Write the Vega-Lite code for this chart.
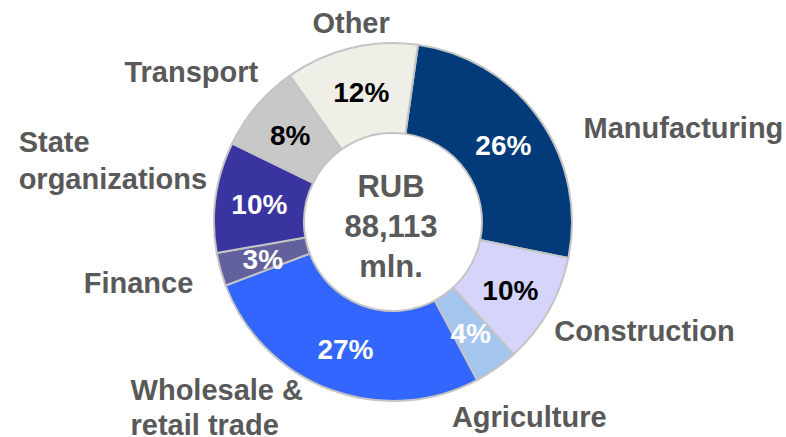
{
  "$schema": "https://vega.github.io/schema/vega-lite/v6.json",
  "width": 786,
  "height": 444,
  "autosize": {"type": "none"},
  "padding": 0,
  "background": "white",
  "view": {"stroke": null},
  "data": {
    "values": [
      {"idx": 1, "sector": "Manufacturing", "name": "Manufacturing", "share": 26, "pct": "26%"},
      {"idx": 2, "sector": "Construction", "name": "Construction", "share": 10, "pct": "10%"},
      {"idx": 3, "sector": "Agriculture", "name": "Agriculture", "share": 4, "pct": "4%"},
      {"idx": 4, "sector": "Wholesale & retail trade", "name": "Wholesale &\nretail trade", "share": 27, "pct": "27%"},
      {"idx": 5, "sector": "Finance", "name": "Finance", "share": 3, "pct": "3%"},
      {"idx": 6, "sector": "State organizations", "name": "State\norganizations", "share": 10, "pct": "10%"},
      {"idx": 7, "sector": "Transport", "name": "Transport", "share": 8, "pct": "8%"},
      {"idx": 8, "sector": "Other", "name": "Other", "share": 12, "pct": "12%"}
    ]
  },
  "encoding": {
    "theta": {"field": "share", "type": "quantitative", "stack": true, "scale": {"range": [0.14, 6.4232]}},
    "order": {"field": "idx", "type": "quantitative"},
    "detail": {"field": "sector", "type": "nominal"}
  },
  "layer": [
    {
      "mark": {"type": "arc", "innerRadius": 89, "outerRadius": 179, "stroke": "#c4c4c4", "strokeWidth": 2},
      "encoding": {
        "color": {
          "field": "sector", "type": "nominal", "legend": null,
          "scale": {
            "domain": ["Manufacturing", "Construction", "Agriculture", "Wholesale & retail trade", "Finance", "State organizations", "Transport", "Other"],
            "range": ["#023a7a", "#d5d5fc", "#a3c5ee", "#3366ff", "#62609d", "#3a34a0", "#c8c8c8", "#efeee7"]
          }
        }
      }
    },
    {
      "mark": {"type": "text", "radius": 135, "font": "Liberation Sans", "fontWeight": "bold", "fontSize": 28, "align": "center", "baseline": "middle", "dy": 3},
      "encoding": {
        "text": {"field": "pct", "type": "nominal"},
        "color": {"condition": {"test": "indexof(['Other','Transport','Construction'], datum.sector) >= 0", "value": "#000000"}, "value": "#ffffff"}
      }
    },
    {
      "mark": {"type": "text", "radius": 0, "font": "Liberation Sans", "fontWeight": "bold", "fontSize": 31, "align": "center", "baseline": "middle", "lineBreak": "\n", "lineHeight": 40, "dy": -34, "dx": -2, "color": "#595959"},
      "encoding": {
        "text": {"condition": {"test": "datum.idx === 1", "value": "RUB\n88,113\nmln."}, "value": ""}
      }
    },
    {
      "mark": {"type": "text", "radius": 205, "font": "Liberation Sans", "fontWeight": "bold", "fontSize": 29, "align": "left", "baseline": "middle", "dx": 23, "dy": 25, "color": "#595959"},
      "encoding": {
        "text": {"condition": {"test": "datum.sector === 'Manufacturing'", "field": "name"}, "value": ""}
      }
    },
    {
      "mark": {"type": "text", "radius": 205, "font": "Liberation Sans", "fontWeight": "bold", "fontSize": 29, "align": "left", "baseline": "middle", "dx": -17, "dy": 9, "color": "#595959"},
      "encoding": {
        "text": {"condition": {"test": "datum.sector === 'Construction'", "field": "name"}, "value": ""}
      }
    },
    {
      "mark": {"type": "text", "radius": 240, "font": "Liberation Sans", "fontWeight": "bold", "fontSize": 29, "align": "center", "baseline": "middle", "dx": -2, "color": "#595959"},
      "encoding": {
        "text": {"condition": {"test": "datum.sector === 'Agriculture'", "field": "name"}, "value": ""}
      }
    },
    {
      "mark": {"type": "text", "radius": 183, "font": "Liberation Sans", "fontWeight": "bold", "fontSize": 29, "align": "left", "baseline": "middle", "lineBreak": "\n", "lineHeight": 35, "dx": -198, "dy": -2, "color": "#595959"},
      "encoding": {
        "text": {"condition": {"test": "datum.sector === 'Wholesale & retail trade'", "field": "name"}, "value": ""}
      }
    },
    {
      "mark": {"type": "text", "radius": 205, "font": "Liberation Sans", "fontWeight": "bold", "fontSize": 29, "align": "right", "baseline": "middle", "dx": -2, "dy": 8, "color": "#595959"},
      "encoding": {
        "text": {"condition": {"test": "datum.sector === 'Finance'", "field": "name"}, "value": ""}
      }
    },
    {
      "mark": {"type": "text", "radius": 372, "font": "Liberation Sans", "fontWeight": "bold", "fontSize": 29, "align": "left", "baseline": "middle", "lineBreak": "\n", "lineHeight": 37, "dx": -6, "dy": -27, "color": "#595959"},
      "encoding": {
        "text": {"condition": {"test": "datum.sector === 'State organizations'", "field": "name"}, "value": ""}
      }
    },
    {
      "mark": {"type": "text", "radius": 240, "font": "Liberation Sans", "fontWeight": "bold", "fontSize": 29, "align": "center", "baseline": "middle", "dx": -19, "dy": 7, "color": "#595959"},
      "encoding": {
        "text": {"condition": {"test": "datum.sector === 'Transport'", "field": "name"}, "value": ""}
      }
    },
    {
      "mark": {"type": "text", "radius": 204, "font": "Liberation Sans", "fontWeight": "bold", "fontSize": 29, "align": "center", "baseline": "middle", "dx": 6, "color": "#595959"},
      "encoding": {
        "text": {"condition": {"test": "datum.sector === 'Other'", "field": "name"}, "value": ""}
      }
    }
  ]
}
